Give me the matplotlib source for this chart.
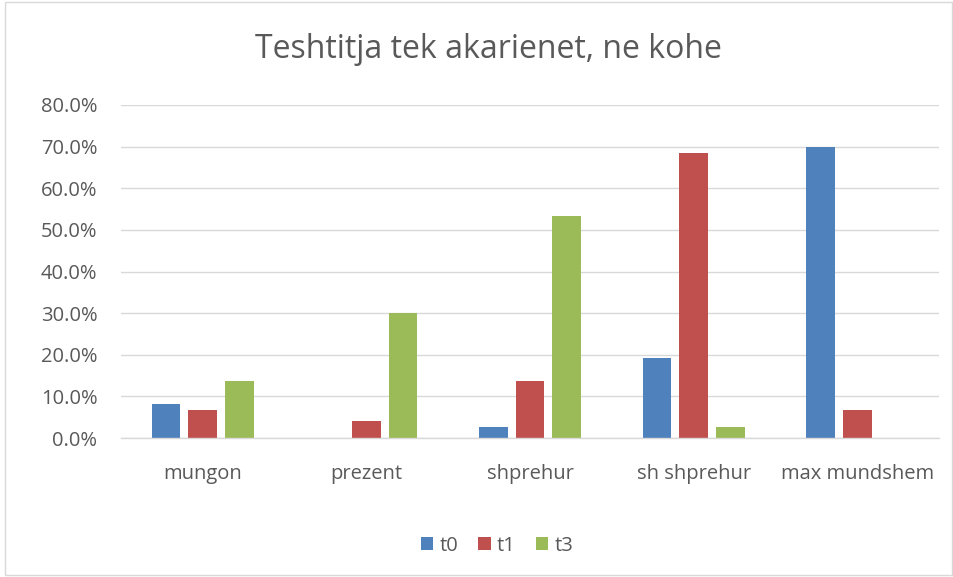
#teshtitja.py: share of patients per category at t0, t1, t3

import numpy as np
import matplotlib.pyplot as plt
from matplotlib.patches import Rectangle

categories = ["mungon", "prezent", "shprehur", "sh shprehur", "max mundshem"]
t0 = [8.2, 0.0, 2.7, 19.2, 69.9]
t1 = [6.8, 4.1, 13.7, 68.5, 6.8]
t3 = [13.7, 30.1, 53.4, 2.7, 0.0]
series_names = ["t0", "t1", "t3"]
colors = ["#4F81BD", "#C0504D", "#9BBB59"]
text_col = "#595959"

plt.rcParams['font.family'] = ['Open Sans', 'DejaVu Sans']

fig = plt.figure(figsize=(9.54, 5.77), dpi=100)
# chart area border
fig.patches.append(Rectangle((5/954, 2/577), 947/954, 573/577, transform=fig.transFigure,
                             fill=False, edgecolor="#D9D9D9", linewidth=1))

ax = fig.add_axes([121/954, 1 - 438/577, 818/954, 333/577])
x = np.arange(len(categories))
step = 0.224
width = 0.175
for i, (vals, name, c) in enumerate(zip([t0, t1, t3], series_names, colors)):
    ax.bar(x + (i - 1) * step, vals, width, color=c, label=name, zorder=3)

ax.set_xlim(-0.5, len(categories) - 0.5)
ax.set_ylim(0, 80)
ax.set_yticks(np.arange(0, 81, 10))
ax.set_yticklabels([f"{v:.1f}%" for v in np.arange(0, 81, 10)])
ax.set_xticks(x)
ax.set_xticklabels(categories)
ax.tick_params(length=0, colors=text_col, labelsize=14.5)
ax.tick_params(axis='x', pad=19)
ax.tick_params(axis='y', pad=17)
ax.grid(axis='y', color="#D9D9D9", linewidth=1, zorder=0)
for s in ["top", "right", "left"]:
    ax.spines[s].set_visible(False)
ax.spines["bottom"].set_color("#D9D9D9")
ax.spines["bottom"].set_linewidth(1)
ax.spines["bottom"].set_zorder(4)

fig.text(488/954, 1 - 50/577, "Teshtitja tek akarienet, ne kohe", ha="center", va="center",
         fontsize=23, color=text_col)

fig.legend(loc="center", bbox_to_anchor=(497/954, 1 - 546/577), ncol=3, frameon=False,
           fontsize=14.5, labelcolor=text_col, handlelength=0.62, handleheight=0.62,
           handletextpad=0.3, columnspacing=1.0)

fig.savefig("out.png", dpi=100)
